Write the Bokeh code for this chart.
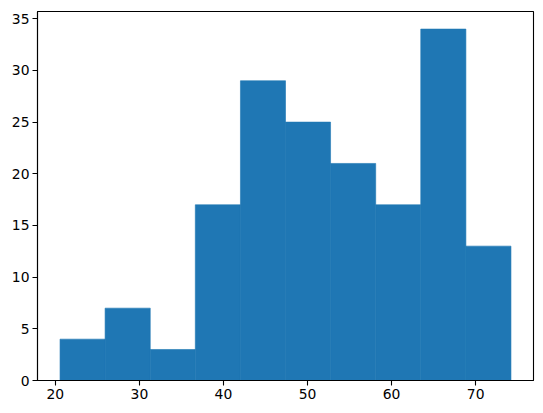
from bokeh.plotting import figure
from bokeh.models import Range1d, FixedTicker
from bokeh.embed import file_html
from bokeh.resources import INLINE

# Histogram data
bin_edges = [20.56, 25.92, 31.29, 36.65, 42.02, 47.38, 52.74, 58.11, 63.47, 68.84, 74.2]
counts = [4, 7, 3, 17, 29, 25, 21, 17, 34, 13]
x_ticks = [20, 30, 40, 50, 60, 70]
y_ticks = [0, 5, 10, 15, 20, 25, 30, 35]

lo, hi = bin_edges[0], bin_edges[-1]
span = hi - lo
ymax = max(counts) * 1.05

p = figure(output_backend="svg", toolbar_location=None,
           frame_width=496, frame_height=369,
           x_range=Range1d(lo - 0.05 * span, hi + 0.05 * span),
           y_range=Range1d(0, ymax),
           min_border_left=37, min_border_right=2, min_border_top=11, min_border_bottom=0)

p.quad(left=bin_edges[:-1], right=bin_edges[1:], bottom=0, top=counts,
       fill_color="#1f77b4", line_color="#1f77b4", line_width=0.6)

p.grid.visible = False
p.outline_line_color = "black"
p.outline_line_width = 1.1
p.outline_line_alpha = 1.0
p.background_fill_color = "white"
p.border_fill_color = "white"

p.xaxis.ticker = FixedTicker(ticks=x_ticks)
p.yaxis.ticker = FixedTicker(ticks=y_ticks)
for ax in (p.xaxis, p.yaxis):
    ax.major_tick_out = 5
    ax.major_tick_in = 0
    ax.minor_tick_line_color = None
    ax.major_tick_line_width = 1.1
    ax.major_tick_line_color = "black"
    ax.axis_line_color = "black"
    ax.axis_line_width = 1.1
    ax.major_label_text_font = "DejaVu Sans"
    ax.major_label_text_font_size = "13.9px"
    ax.major_label_text_color = "black"
    ax.major_label_standoff = 3

open("out.html", "w").write(file_html(p, INLINE))
